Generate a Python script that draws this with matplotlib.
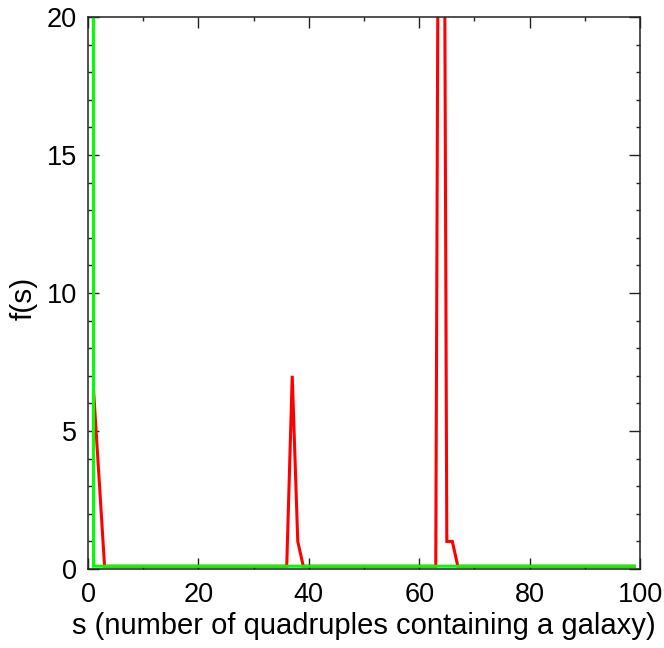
import matplotlib
matplotlib.use('Agg')
import matplotlib.pyplot as plt
from matplotlib.ticker import MultipleLocator

plt.rcParams['font.family'] = ['Liberation Sans', 'DejaVu Sans']

# breakpoints of each curve (values between are the flat baseline)
red_s = [1, 2, 3, 36, 37, 38, 39, 63, 64, 65, 66, 67, 99]
red_f = [6.5, 3.3, 0.1, 0.1, 7.0, 1.0, 0.1, 0.1, 55.0, 1.0, 1.0, 0.1, 0.1]

green_s = [0, 1, 99]
green_f = [1000.0, 0.1, 0.1]

x_ticks = [0, 20, 40, 60, 80, 100]
y_ticks = [0, 5, 10, 15, 20]

fig = plt.figure(figsize=(6.64, 6.48), dpi=100)
ax = fig.add_axes([88 / 664, 1 - 569 / 648, 552 / 664, 552 / 648])

ax.plot(red_s, red_f, color='#ff0000', lw=2.2, solid_joinstyle='miter')
ax.plot(green_s, green_f, color='#00ff00', lw=2.2, solid_joinstyle='miter')

ax.set_xlim(0, 100)
ax.set_ylim(0, 20)
ax.set_xticks(x_ticks)
ax.set_yticks(y_ticks)
ax.xaxis.set_minor_locator(MultipleLocator(10))
ax.yaxis.set_minor_locator(MultipleLocator(1))
ax.tick_params(which='both', direction='in', top=True, right=True, width=1.0, color='#222222')
ax.tick_params(which='major', length=8, labelsize=19.5)
ax.tick_params(axis='x', which='major', pad=9.5)
ax.tick_params(axis='y', which='major', pad=8)
ax.tick_params(which='minor', length=3)
for sp in ax.spines.values():
    sp.set_linewidth(1.1)
    sp.set_color('#222222')

ax.set_xlabel('s (number of quadruples containing a galaxy)', fontsize=21)
ax.xaxis.set_label_coords(0.5, -0.078)
ax.set_ylabel('f(s)', fontsize=21.5)
ax.yaxis.set_label_coords(-0.092, 0.49)

fig.savefig('out.png', dpi=100)
